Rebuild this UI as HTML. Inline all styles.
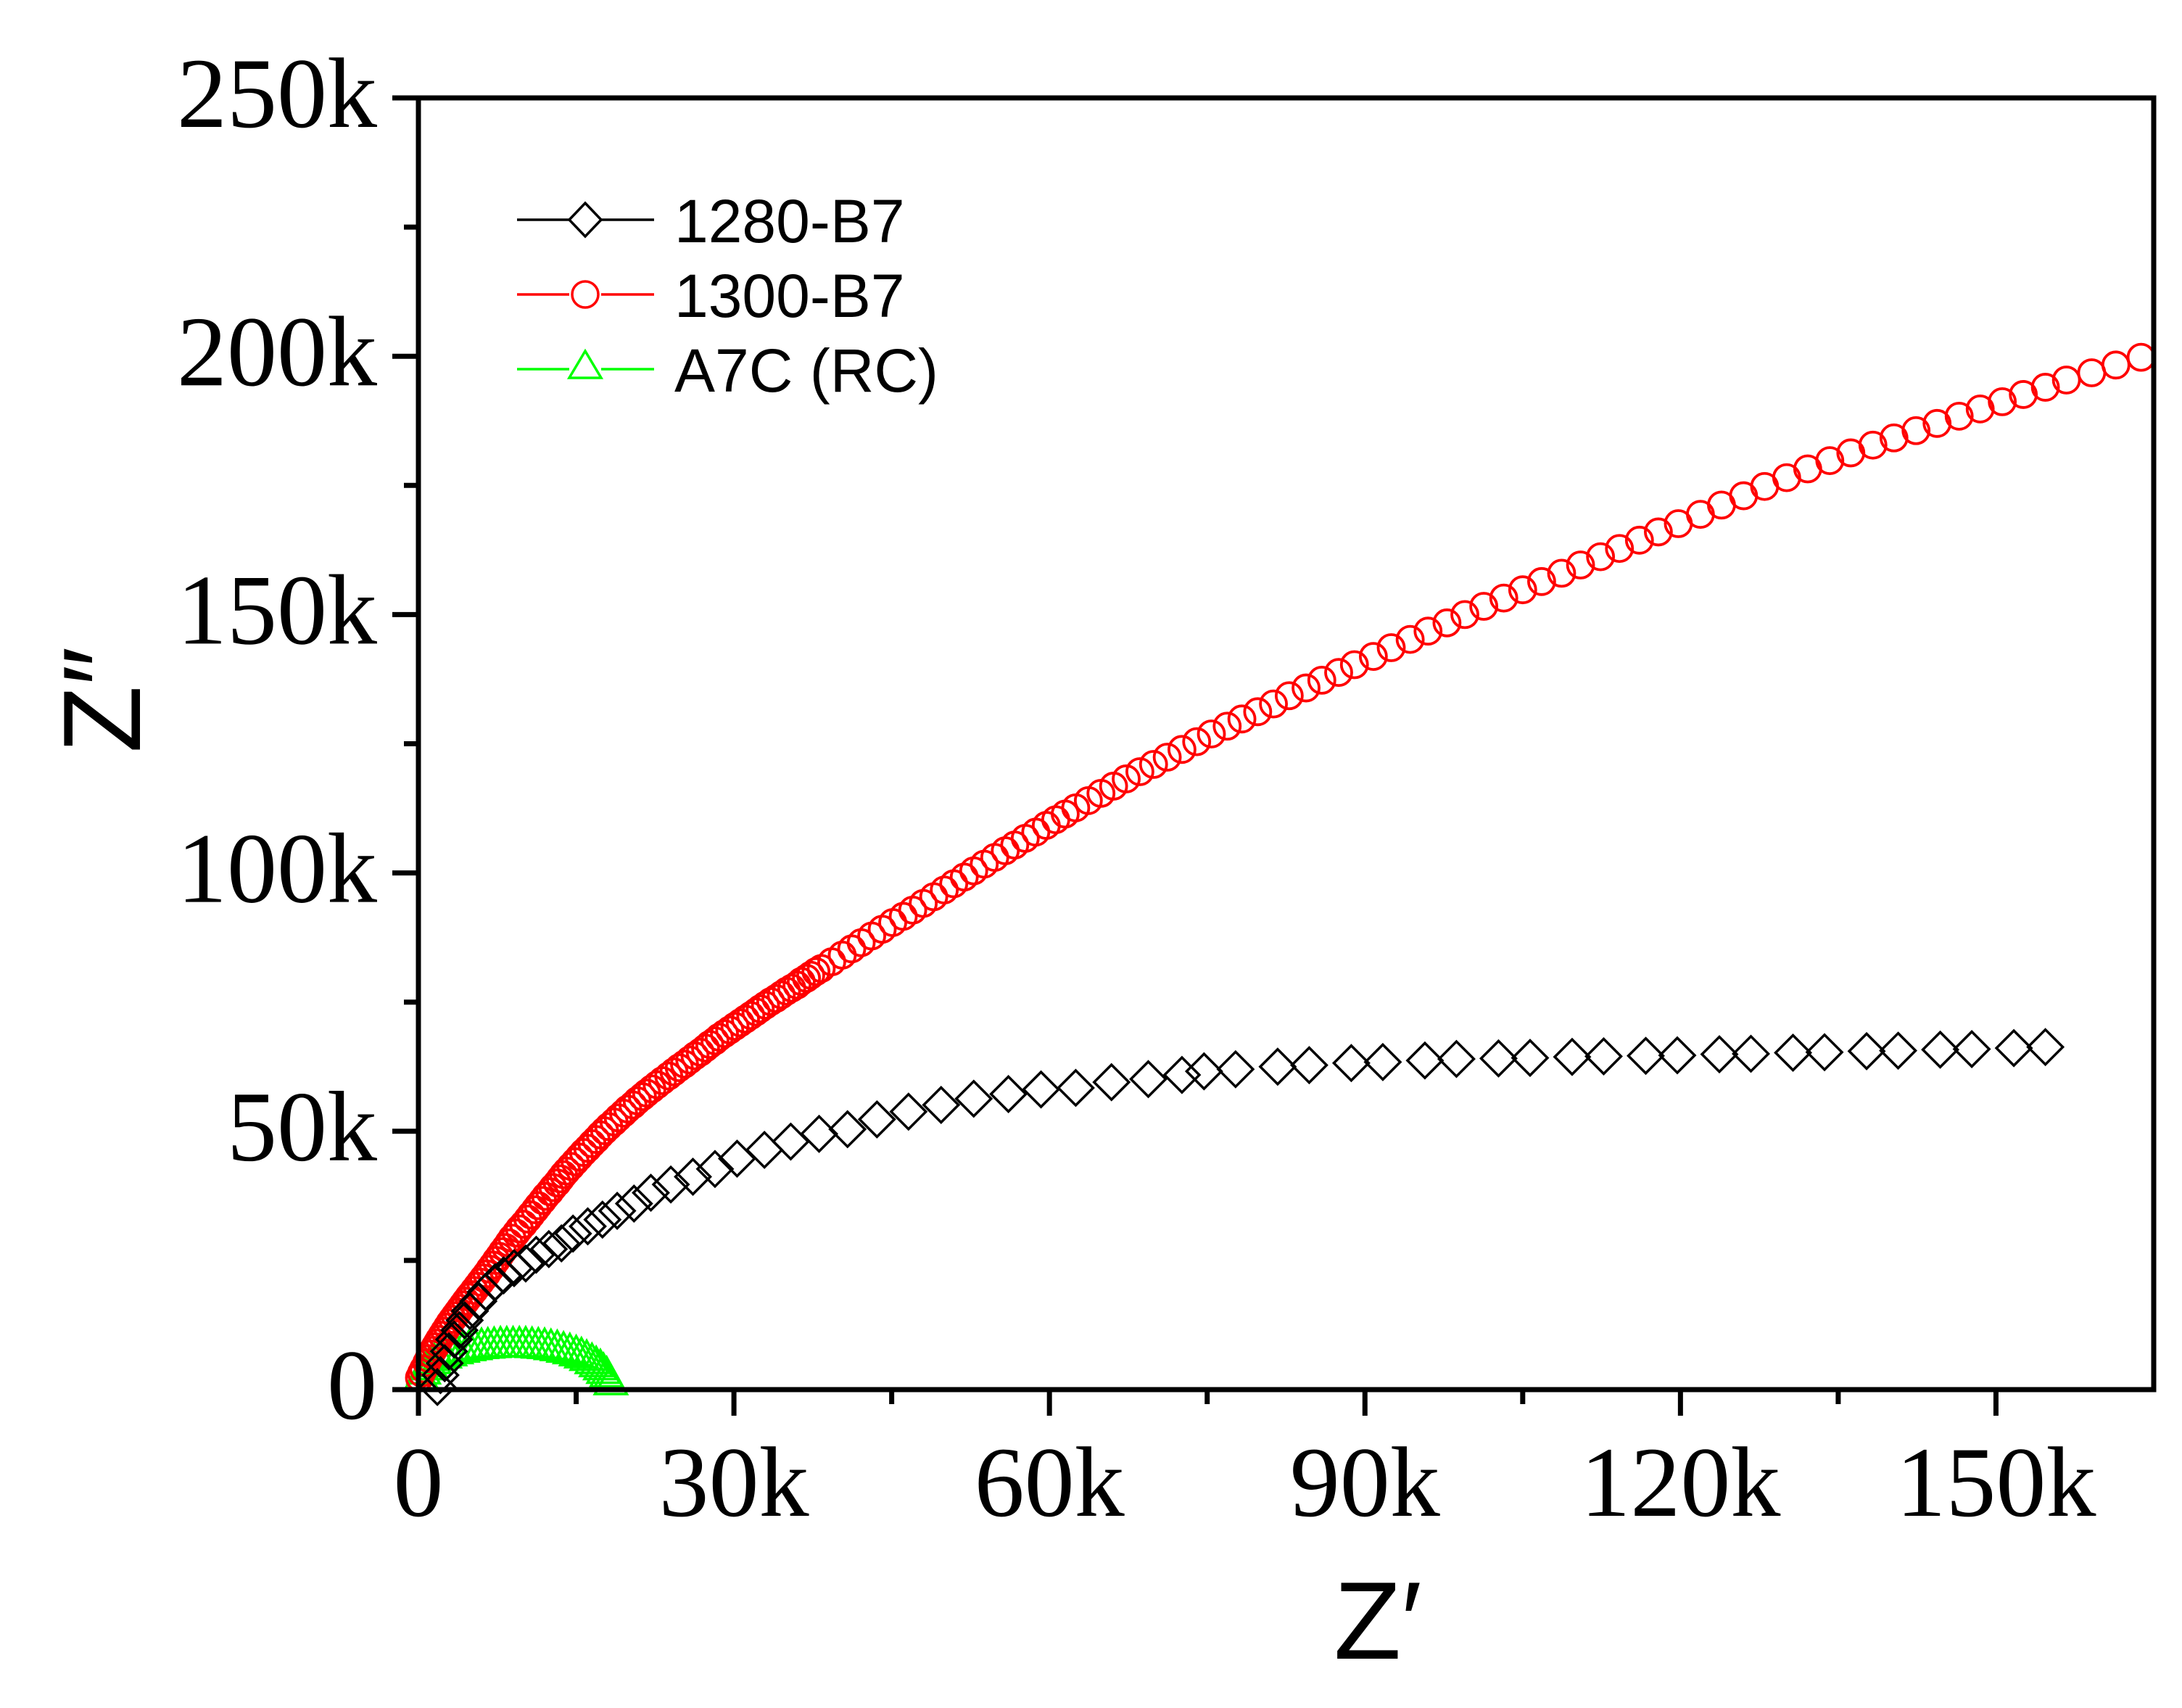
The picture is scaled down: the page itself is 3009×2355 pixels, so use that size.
<!DOCTYPE html>
<html><head><meta charset="utf-8"><style>
html,body{margin:0;padding:0;background:#fff;}
svg{display:block;}
</style></head><body>
<svg id="chart" width="3009" height="2355" viewBox="0 0 3009 2355" xmlns="http://www.w3.org/2000/svg">
<rect x="0" y="0" width="3009" height="2355" fill="#fff"/>
<g id="series"></g>
<g id="axes"></g>
<g id="legend"></g>
</svg>
<script>
const xTicks = [0, 30, 60, 90, 120, 150];
const xTickLabels = ["0", "30k", "60k", "90k", "120k", "150k"];
const yTicks = [0, 50, 100, 150, 200, 250];
const yTickLabels = ["0", "50k", "100k", "150k", "200k", "250k"];
const seriesNames = ["1280-B7", "1300-B7", "A7C (RC)"];

const b7_1280_x = [1.8,2.1,2.5,2.9,3.4,3.9,4.4,4.9,5.7,6.4,7.3,8.1,9.1,10.2,11.2,12.4,13.6,14.7,16.1,17.5,18.9,20.5,22.1,24.0,26.1,28.2,30.3,32.9,35.4,38.1,40.8,43.6,46.6,49.7,52.8,56.1,59.2,62.5,65.9,69.4,72.6,74.7,77.7,81.7,84.7,88.7,91.7,95.7,98.7,102.7,105.7,109.7,112.7,116.7,119.7,123.7,126.7,130.7,133.7,137.7,140.7,144.7,147.7,151.7,154.7];
const b7_1280_y = [0.5,2.8,5.1,7.4,9.7,11.5,13.4,15.2,17.1,18.9,20.8,22.1,23.5,24.4,26.1,27.2,28.3,30.2,31.6,32.9,34.6,36.0,38.1,39.7,41.2,42.7,44.7,46.4,48.0,49.5,50.4,52.3,53.8,55.1,56.3,57.2,58.1,58.4,59.5,60.1,60.9,61.6,62.0,62.5,62.8,63.2,63.4,63.7,64.0,64.1,64.2,64.4,64.5,64.6,64.7,64.9,65.0,65.2,65.3,65.5,65.6,65.8,65.9,66.1,66.3];

const b7_1300_x = [0.1,0.3,0.5,0.8,1.0,1.2,1.4,1.6,1.8,2.0,2.25,2.5,2.75,3.0,3.25,3.5,3.75,4.0,4.25,4.5,4.8,5.0,5.3,5.6,5.9,6.2,6.5,6.8,7.1,7.4,7.7,8.0,8.3,8.6,8.9,9.3,9.6,10.0,10.4,10.7,11.1,11.4,11.8,12.1,12.5,12.8,13.2,13.5,13.8,14.1,14.5,14.9,15.3,15.7,16.1,16.5,16.9,17.3,17.7,18.1,18.6,19.0,19.5,19.9,20.4,20.8,21.3,21.7,22.2,22.7,23.2,23.8,24.3,24.8,25.3,25.8,26.3,26.8,27.3,27.7,28.2,28.6,29.1,29.6,30.1,30.6,31.1,31.6,32.1,32.5,33.0,33.5,34.0,34.5,35.0,35.5,36.0,36.4,36.9,37.3,37.8,38.3,39.3,40.3,41.2,42.1,43.1,44.1,45.1,46.1,47.0,48.0,49.0,50.0,50.9,51.9,52.8,53.8,54.8,55.8,56.7,57.7,58.7,59.7,60.6,61.5,62.5,63.7,64.9,66.1,67.3,68.6,69.9,71.2,72.6,74.0,75.4,76.9,78.3,79.8,81.3,82.8,84.4,85.9,87.5,89.0,90.8,92.5,94.3,96.0,97.8,99.5,101.3,103.2,105.0,106.8,108.7,110.5,112.4,114.2,116.1,117.9,119.8,121.9,123.9,126.0,128.0,130.1,132.1,134.2,136.2,138.3,140.3,142.4,144.4,146.5,148.5,150.6,152.6,154.7,156.7,159.1,161.4,163.8];
const b7_1300_y = [2.3,3.2,4.0,5.2,6.0,6.9,7.6,8.3,9.0,9.7,10.5,11.3,12.1,12.9,13.6,14.3,15.0,15.7,16.4,17.1,17.9,18.4,19.2,20.0,20.8,21.6,22.4,23.3,24.1,25.0,25.8,26.7,27.5,28.4,29.3,30.3,31.1,32.0,33.0,33.8,34.8,35.6,36.6,37.4,38.3,39.1,40.0,40.8,41.6,42.3,43.2,44.1,45.0,45.9,46.7,47.6,48.4,49.3,50.1,50.9,51.8,52.6,53.5,54.3,55.1,55.9,56.7,57.4,58.2,59.0,59.8,60.7,61.5,62.3,63.0,63.8,64.6,65.3,66.1,66.8,67.5,68.2,68.9,69.6,70.3,71.0,71.7,72.4,73.1,73.7,74.4,75.1,75.7,76.4,77.1,77.7,78.3,79.0,79.6,80.2,80.9,81.5,82.8,84.1,85.3,86.5,87.8,89.1,90.4,91.6,92.8,94.1,95.4,96.7,97.9,99.2,100.4,101.7,103.0,104.3,105.4,106.7,107.9,109.2,110.3,111.4,112.6,114.0,115.4,116.8,118.2,119.6,121.0,122.4,123.9,125.4,126.9,128.4,129.8,131.2,132.7,134.3,135.8,137.3,138.8,140.3,141.9,143.6,145.2,146.8,148.4,150.0,151.6,153.2,154.8,156.4,158.0,159.6,161.2,162.8,164.4,166.0,167.6,169.4,171.2,173.0,174.8,176.5,178.2,179.8,181.3,182.8,184.2,185.6,187.0,188.4,189.8,191.2,192.6,194.0,195.4,196.8,198.3,199.8,201.2];

const a7c_x = [0.3,0.5,0.8,1.1,1.5,2.0,2.5,3.0,3.6,4.2,4.8,5.4,6.0,6.6,7.2,7.8,8.4,9.0,9.6,10.2,10.8,11.4,12.0,12.6,13.2,13.8,14.4,15.0,15.5,16.0,16.5,16.9,17.3,17.6,17.9,18.1,18.3];
const a7c_y = [2.2,3.2,4.0,4.6,5.2,5.8,6.3,6.7,7.1,7.4,7.7,7.9,8.1,8.2,8.3,8.4,8.4,8.4,8.4,8.4,8.3,8.2,8.1,7.9,7.7,7.4,7.1,6.7,6.3,5.8,5.2,4.6,4.0,3.3,2.6,1.8,1.1];

const NS = "http://www.w3.org/2000/svg";
const PL = 577, PR = 2970, PT = 135, PB = 1916;
const XMAX = 165, YMAX = 250;
function sx(v){ return PL + v / XMAX * (PR - PL); }
function sy(v){ return PB - v / YMAX * (PB - PT); }
function mk(tag, attrs, parent){
  const e = document.createElementNS(NS, tag);
  for (const k in attrs) e.setAttribute(k, attrs[k]);
  parent.appendChild(e);
  return e;
}
const gS = document.getElementById('series');
const gA = document.getElementById('axes');
const gL = document.getElementById('legend');

function markerPath(type, x, y){
  if (type === 'diamond') return `M${x},${y-24} L${x+24},${y} L${x},${y+24} L${x-24},${y} Z`;
  if (type === 'triangle') return `M${x},${y-26} L${x+22},${y+14} L${x-22},${y+14} Z`;
  return '';
}
function drawSeries(xs, ys, color, type, name){
  const g = mk('g', {}, gS);
  
  
  for (let i = 0; i < xs.length; i++){
    const x = sx(xs[i]), y = sy(ys[i]);
    let m;
    if (type === 'circle') m = mk('ellipse', {cx: x, cy: y, rx: 18, ry: 18, fill: 'none', stroke: color, 'stroke-width': 3.8}, g);
    else m = mk('path', {d: markerPath(type, x, y), fill: 'none', stroke: color, 'stroke-width': 3.5, 'stroke-linejoin': 'miter'}, g);
    
    
  }
}
drawSeries(a7c_x, a7c_y, '#00ff00', 'triangle', 'a7c-rc');
drawSeries(b7_1300_x, b7_1300_y, '#ff0000', 'circle', 'b7-1300');
drawSeries(b7_1280_x, b7_1280_y, '#000000', 'diamond', 'b7-1280');

const cover = mk('rect', {x: PR + 3, y: 0, width: 3009 - PR, height: 2355, fill: '#fff'}, gA);



const frame = mk('rect', {x: PL, y: PT, width: PR - PL, height: PB - PT, fill: 'none', stroke: '#000', 'stroke-width': 7}, gA);



for (let i = 0; i < xTicks.length; i++){
  const x = sx(xTicks[i]);
  const t = mk('line', {x1: x, y1: PB, x2: x, y2: PB + 36, stroke: '#000', 'stroke-width': 7}, gA);
  
  
  const lb = mk('text', {x: x, y: 2090, 'text-anchor': 'middle', 'font-family': '"Liberation Serif", serif', 'font-size': 138, fill: '#000'}, gA);
  lb.textContent = xTickLabels[i];
  
  
}
for (let v = 15; v < XMAX; v += 30){
  const x = sx(v);
  const t = mk('line', {x1: x, y1: PB, x2: x, y2: PB + 20, stroke: '#000', 'stroke-width': 7}, gA);
  
  
}
for (let i = 0; i < yTicks.length; i++){
  const y = sy(yTicks[i]);
  const t = mk('line', {x1: PL - 36, y1: y, x2: PL, y2: y, stroke: '#000', 'stroke-width': 7}, gA);
  
  
  const lb = mk('text', {x: 520, y: y + 40, 'text-anchor': 'end', 'font-family': '"Liberation Serif", serif', 'font-size': 138, fill: '#000'}, gA);
  lb.textContent = yTickLabels[i];
  
  
}
for (let v = 25; v < YMAX; v += 50){
  const y = sy(v);
  const t = mk('line', {x1: PL - 20, y1: y, x2: PL, y2: y, stroke: '#000', 'stroke-width': 7}, gA);
  
  
}
const xt = mk('text', {x: 1900, y: 2287, 'text-anchor': 'middle', 'font-family': '"Liberation Sans", sans-serif', 'font-size': 152, fill: '#000'}, gA);
xt.textContent = "Z\u2032";


const yt = mk('text', {x: 0, y: 0, 'text-anchor': 'middle', 'font-family': '"Liberation Sans", sans-serif', 'font-size': 152, fill: '#000', transform: 'translate(193,965) rotate(-90)'}, gA);
yt.textContent = "Z\u2033";



const legColors = ['#000000', '#ff0000', '#00ff00'];
const legTypes = ['diamond', 'circle', 'triangle'];
const legY = [303, 406, 509];
for (let i = 0; i < seriesNames.length; i++){
  const g = mk('g', {}, gL);
  
  
  const y = legY[i], c = legColors[i];
  mk('line', {x1: 713, y1: y, x2: 785, y2: y, stroke: c, 'stroke-width': 3.5}, g);
  mk('line', {x1: 829, y1: y, x2: 902, y2: y, stroke: c, 'stroke-width': 3.5}, g);
  if (legTypes[i] === 'circle') mk('ellipse', {cx: 807, cy: y, rx: 18, ry: 18, fill: 'none', stroke: c, 'stroke-width': 3.5}, g);
  else if (legTypes[i] === 'diamond') mk('path', {d: `M807,${y-23} L829,${y} L807,${y+23} L785,${y} Z`, fill: 'none', stroke: c, 'stroke-width': 3.5}, g);
  else mk('path', {d: `M807,${y-25} L829,${y+12} L785,${y+12} Z`, fill: 'none', stroke: c, 'stroke-width': 3.5}, g);
  const tx = mk('text', {x: 930, y: y + 31, 'font-family': '"Liberation Sans", sans-serif', 'font-size': 84, fill: '#000'}, g);
  tx.textContent = seriesNames[i];
  
  
}
</script>
</body></html>
